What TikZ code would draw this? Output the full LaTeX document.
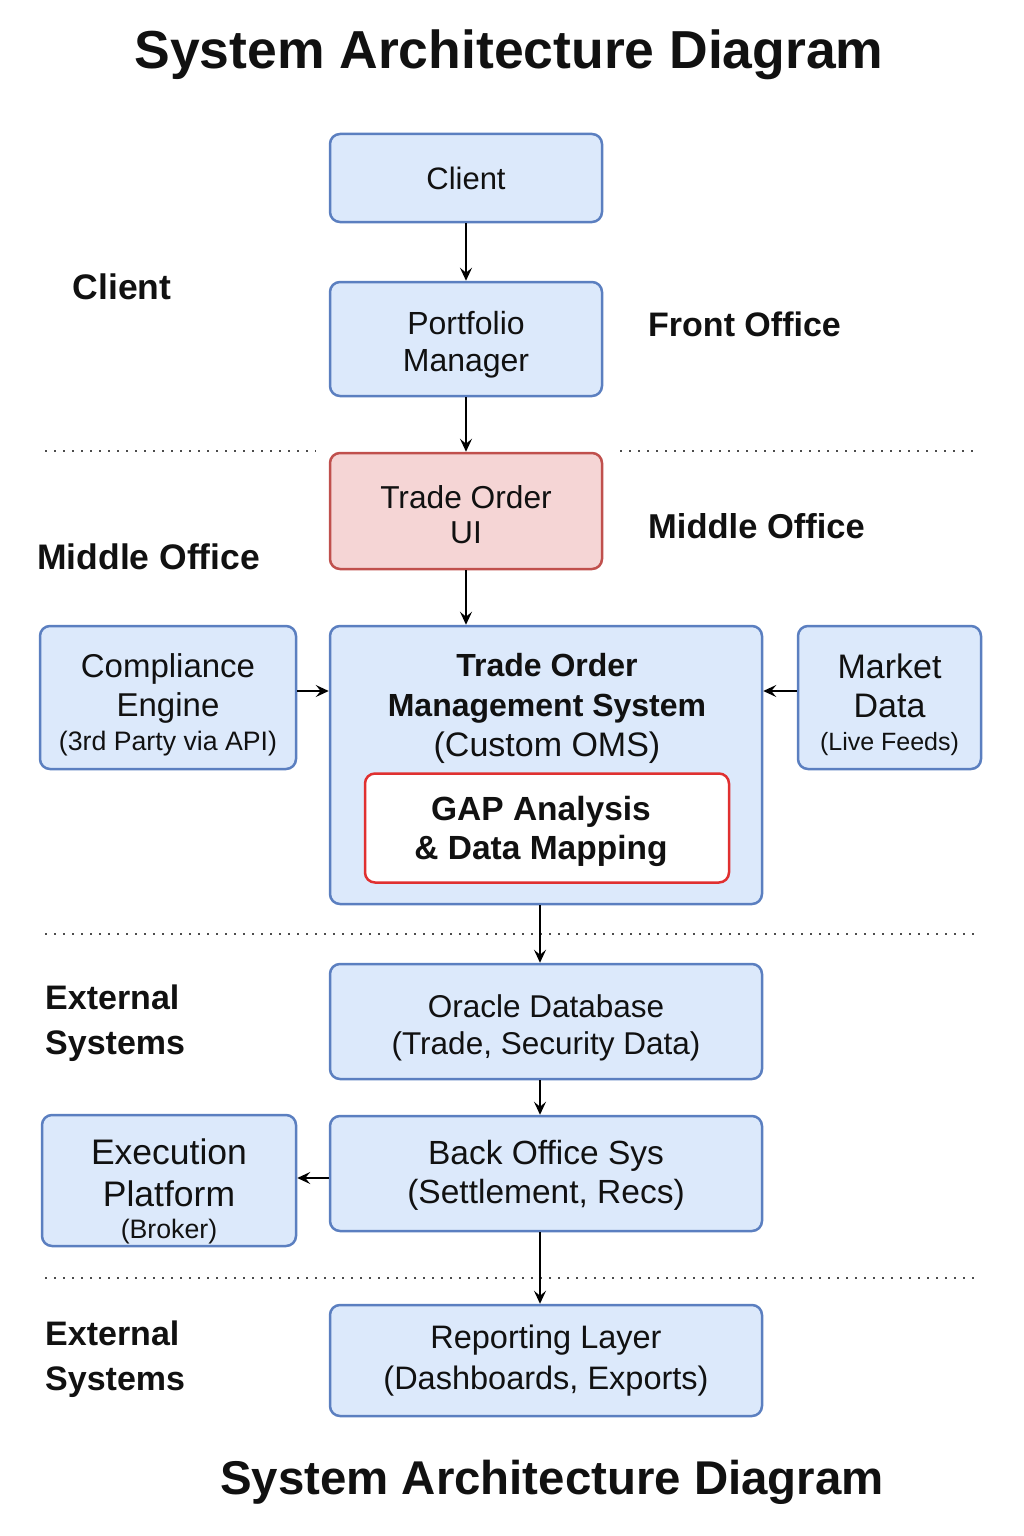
\documentclass[tikz,border=0pt]{standalone}
\usepackage{fontspec}
\setmainfont{Liberation Sans}
\usetikzlibrary{arrows.meta}
\definecolor{boxfill}{HTML}{DCE9FB}
\definecolor{boxline}{HTML}{5B7FC0}
\definecolor{pinkfill}{HTML}{F5D5D5}
\definecolor{pinkline}{HTML}{C0504D}
\definecolor{gapline}{HTML}{E03030}
\definecolor{txt}{HTML}{111111}
\newcommand{\fsz}[2]{\fontsize{#1}{#2}\selectfont}
\newcommand{\sh}[1]{\rule{0pt}{#1pt}}
\tikzset{
  box/.style={draw=boxline, fill=boxfill, line width=2.5pt, rounded corners=10pt,
    align=center, inner sep=0pt, text=txt, font=\fsz{31}{37}},
  pinkbox/.style={box, draw=pinkline, fill=pinkfill},
  gapbox/.style={box, draw=gapline, fill=white, font=\bfseries\fsz{33.5}{39}},
  lbl/.style={text=txt, font=\bfseries\fsz{34}{45}, inner sep=0pt},
  ttl/.style={text=txt, font=\bfseries\fsz{53.5}{60}, inner sep=0pt},
  conn/.style={line width=1.6pt, -{Stealth[length=13pt,width=12pt,inset=5pt]}},
  sep/.style={line width=1.8pt, gray!60!black, dash pattern=on 1.8pt off 7.2pt},
}
\begin{document}
\begin{tikzpicture}[x=1pt,y=-1pt]
\useasboundingbox (0,0) rectangle (1024,1536);
% titles
\node[ttl] (ttop) at (509,55) {System Architecture Diagram};
\node[ttl, font=\bfseries\fsz{47.4}{55}] (tbot) at (552,1482) {System Architecture Diagram};
% separators
\coordinate (s1a) at (45,451); \coordinate (s1b) at (316,451);
\coordinate (s1c) at (620,451); \coordinate (s1d) at (975,451);
\coordinate (s2a) at (45,934); \coordinate (s2b) at (975,934);
\coordinate (s3a) at (45,1278); \coordinate (s3b) at (975,1278);
\draw[sep] (s1a) -- (s1b);
\draw[sep] (s1c) -- (s1d);
\draw[sep] (s2a) -- (s2b);
\draw[sep] (s3a) -- (s3b);
% side labels
\node[lbl, font=\bfseries\fsz{35.5}{45}] (lclient) at (122,287) {Client};
\node[lbl, anchor=west] (lfront) at (648,324) {Front Office};
\node[lbl, anchor=west, font=\bfseries\fsz{34.5}{45}] (lmidr) at (648,526) {Middle Office};
\node[lbl, anchor=west, font=\bfseries\fsz{35.5}{45}] (lmidl) at (37,557) {Middle Office};
\node[lbl, anchor=west, align=left] (lext1) at (45,1023) {External\\Systems};
\node[lbl, anchor=west, align=left] (lext2) at (45,1359) {External\\Systems};
% boxes
\node[box, minimum width=272pt, minimum height=88pt] (client) at (466,178) {Client};
\node[box, minimum width=272pt, minimum height=114pt, font=\fsz{32}{37}] (pm) at (466,339)
  {\sh{35.4}Portfolio\\Manager};
\node[pinkbox, minimum width=272pt, minimum height=116pt, font=\fsz{31.7}{35}] (toui) at (466,511)
  {\sh{31}Trade Order\\UI};
\node[box, minimum width=432pt, minimum height=278pt] (oms) at (546,765) {};
\node[text=txt, align=center, inner sep=0pt, font=\fsz{32}{40}] (omstitle) at (547,708)
  {\textbf{Trade Order}\\\textbf{Management System}\\{\fsz{34}{40}(Custom OMS)}};
\node[gapbox, minimum width=364pt, minimum height=109pt] (gap) at (547,828) {};
\node[text=txt, align=center, inner sep=0pt, font=\bfseries\fsz{33.5}{39}] (gaptext) at (541,831)
  {GAP Analysis\\\& Data Mapping};
\node[box, minimum width=256pt, minimum height=143pt, font=\fsz{33}{39}] (comp) at (168,697.5)
  {\sh{38}Compliance\\Engine\\[-5pt]{\fsz{26.7}{30}(3rd Party via API)}};
\node[box, minimum width=183pt, minimum height=143pt, font=\fsz{34}{39}] (market) at (889.5,697.5)
  {\sh{38.5}Market\\Data\\[-6pt]{\fsz{25}{30}(Live Feeds)}};
\node[box, minimum width=432pt, minimum height=115pt, font=\fsz{31.5}{37}] (oracle) at (546,1021.5)
  {\sh{34.6}Oracle Database\\(Trade, Security Data)};
\node[box, minimum width=432pt, minimum height=115pt, font=\fsz{33.5}{39}] (back) at (546,1173.5)
  {\sh{28.5}Back Office Sys\\(Settlement, Recs)};
\node[box, minimum width=254pt, minimum height=131pt, font=\fsz{35.5}{42}] (exec) at (169,1180.5)
  {\sh{47}Execution\\Platform\\[-10pt]{\fsz{26.7}{30}(Broker)}};
\node[box, minimum width=432pt, minimum height=111pt, font=\fsz{32.5}{41}] (report) at (546,1360.5)
  {Reporting Layer\\(Dashboards, Exports)};
% connector guide coordinates
\coordinate (ysideA) at (0,691);
\coordinate (ysideB) at (0,1178);
\coordinate (xmain) at (540,0);
% connectors
\draw[conn] (client) -- (pm);
\draw[conn] (pm) -- (toui);
\draw[conn] (toui) -- (toui |- oms.north);
\draw[conn] (comp.east |- ysideA) -- (oms.west |- ysideA);
\draw[conn] (market.west |- ysideA) -- (oms.east |- ysideA);
\draw[conn] (oms.south -| xmain) -- (oracle.north -| xmain);
\draw[conn] (oracle.south -| xmain) -- (back.north -| xmain);
\draw[conn] (back.west |- ysideB) -- (exec.east |- ysideB);
\draw[conn] (back.south -| xmain) -- (report.north -| xmain);
\end{tikzpicture}
\end{document}
